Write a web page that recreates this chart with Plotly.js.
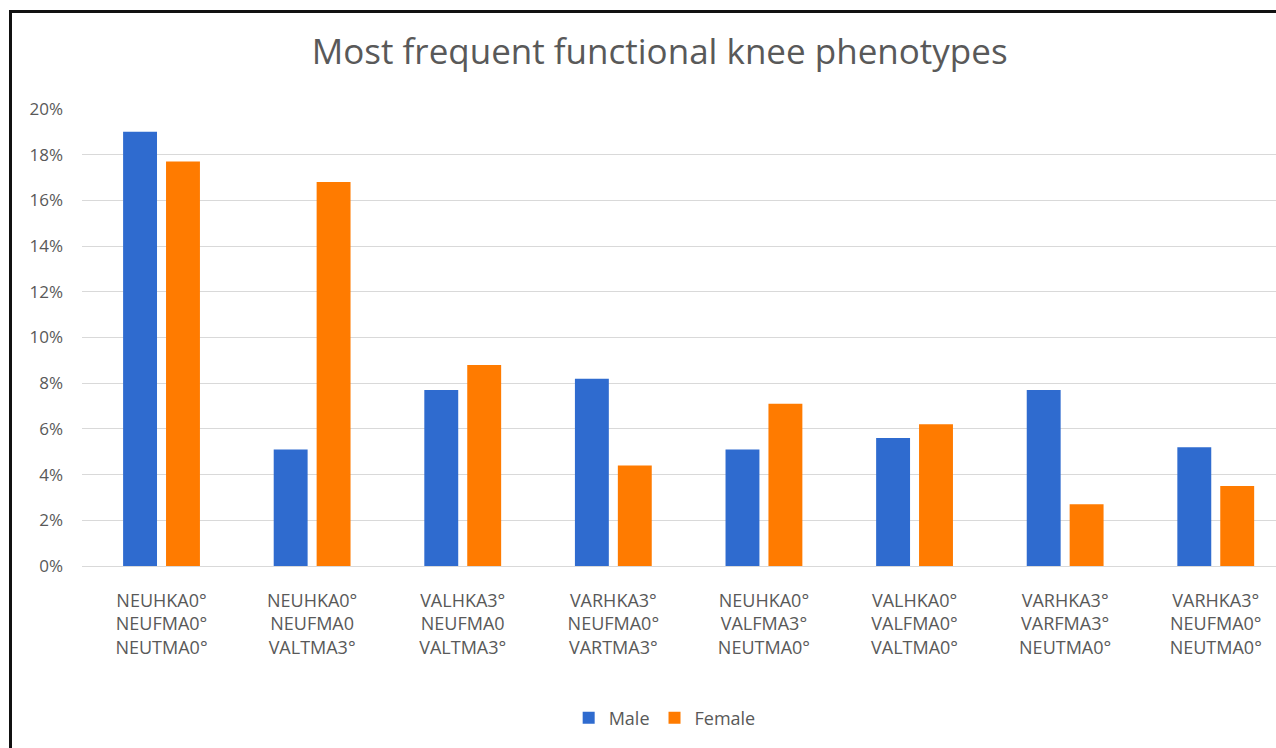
<!DOCTYPE html>
<html>
<head>
<meta charset="utf-8">
<script src="https://cdn.plot.ly/plotly-3.0.1.min.js"></script>
<style>
html,body{margin:0;padding:0;background:#fff;}
#chart{position:absolute;left:0;top:0;width:1276px;height:748px;}
#frame{position:absolute;left:9px;top:10px;width:1300px;height:800px;border-left:3px solid #111;border-top:3px solid #111;pointer-events:none;}
</style>
</head>
<body>
<div id="chart"></div>
<div id="frame"></div>
<script>
const categories = [
  "NEUHKA0°<br>NEUFMA0°<br>NEUTMA0°",
  "NEUHKA0°<br>NEUFMA0<br>VALTMA3°",
  "VALHKA3°<br>NEUFMA0<br>VALTMA3°",
  "VARHKA3°<br>NEUFMA0°<br>VARTMA3°",
  "NEUHKA0°<br>VALFMA3°<br>NEUTMA0°",
  "VALHKA0°<br>VALFMA0°<br>VALTMA0°",
  "VARHKA3°<br>VARFMA3°<br>NEUTMA0°",
  "VARHKA3°<br>NEUFMA0°<br>NEUTMA0°"
];
const male = [0.190, 0.051, 0.077, 0.082, 0.051, 0.056, 0.077, 0.052];
const female = [0.177, 0.168, 0.088, 0.044, 0.071, 0.062, 0.027, 0.035];
const yTicks = [0, 0.02, 0.04, 0.06, 0.08, 0.10, 0.12, 0.14, 0.16, 0.18, 0.20];

const font = "Open Sans, Noto Sans, sans-serif";
const traces = [
  {type: "bar", name: "Male", x: categories, y: male, marker: {color: "#2F6BCF"}},
  {type: "bar", name: "Female", x: categories, y: female, marker: {color: "#FF7B00"}}
];
const layout = {
  width: 1276, height: 748,
  paper_bgcolor: "#ffffff", plot_bgcolor: "#ffffff",
  margin: {l: 82, r: 0, t: 109, b: 182},
  barmode: "group", bargap: 0.43, bargroupgap: 0.21,
  title: {text: "Most frequent functional knee phenotypes", x: 0.517, xanchor: "center",
          y: 1 - 52/748, yanchor: "middle", yref: "container",
          font: {family: "Open Sans, sans-serif", size: 35, color: "#595959"}},
  xaxis: {type: "category", range: [-0.528, 7.40], showgrid: false, zeroline: false,
          showline: false, ticks: "", ticklabelstandoff: 22,
          tickfont: {family: font, size: 18, color: "#595959"}, fixedrange: true},
  yaxis: {range: [0, 0.2], tickvals: yTicks, tickformat: ".0%", showgrid: true,
          gridcolor: "#d9d9d9", gridwidth: 1, zeroline: true, zerolinecolor: "#d9d9d9",
          zerolinewidth: 1, showline: false, ticks: "", ticklabelstandoff: 18,
          tickfont: {family: font, size: 17, color: "#595959"}, fixedrange: true},
  showlegend: true,
  legend: {orientation: "h", x: 0.488, xanchor: "center", y: 30/748, yanchor: "middle",
           yref: "container", font: {family: font, size: 18, color: "#595959"},
           itemwidth: 30, traceorder: "normal"}
};
Plotly.newPlot("chart", traces, layout, {displayModeBar: false, staticPlot: true});
</script>
</body>
</html>
